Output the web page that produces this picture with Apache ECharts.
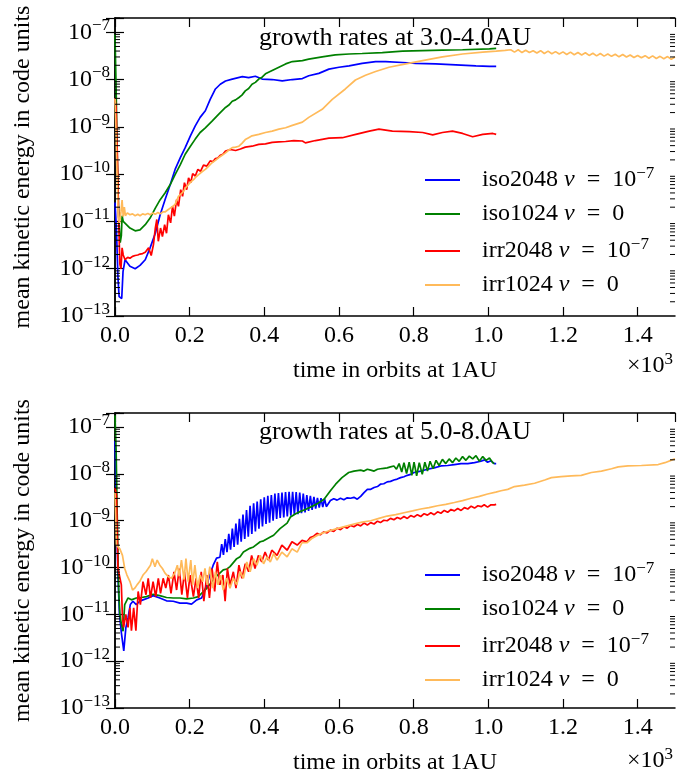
<!DOCTYPE html>
<html>
<head>
<meta charset="utf-8">
<script src="https://cdn.jsdelivr.net/npm/echarts@6/dist/echarts.min.js"></script>
<style>
  html, body { margin: 0; padding: 0; background: #fff; }
  #chart { width: 697px; height: 776px; }
</style>
</head>
<body>
<div id="chart"></div>
<script>
// Mean kinetic energy vs. time (in 10^3 orbits at 1 AU).
// Each point is [time, log10(energy)].

const panelTitles = ['growth rates at 3.0-4.0AU', 'growth rates at 5.0-8.0AU'];
const seriesNames = ['iso2048', 'iso1024', 'irr2048', 'irr1024'];
const seriesColors = ['#0000FF', '#008000', '#FF0000', '#FFBA5A'];

// ---- 3.0-4.0 AU ----
const topIso2048 = [[0.000,-10.60],[0.004,-11.20],[0.008,-12.20],[0.011,-12.59],[0.018,-12.63],[0.0215,-12.06],[0.027,-11.81],[0.040,-11.95],[0.054,-12.00],[0.067,-11.93],[0.081,-11.81],[0.094,-11.56],[0.108,-11.25],[0.121,-10.86],[0.134,-10.54],[0.148,-10.22],[0.161,-9.90],[0.175,-9.65],[0.188,-9.44],[0.202,-9.19],[0.215,-8.98],[0.228,-8.80],[0.242,-8.66],[0.255,-8.42],[0.269,-8.20],[0.282,-8.10],[0.296,-8.03],[0.314,-7.99],[0.341,-7.94],[0.358,-7.96],[0.376,-7.93],[0.394,-7.99],[0.421,-8.00],[0.448,-8.03],[0.475,-8.00],[0.502,-7.98],[0.519,-7.92],[0.546,-7.87],[0.573,-7.78],[0.600,-7.74],[0.627,-7.71],[0.662,-7.66],[0.698,-7.62],[0.725,-7.62],[0.770,-7.64],[0.806,-7.66],[0.859,-7.67],[0.913,-7.69],[0.967,-7.71],[1.003,-7.72],[1.021,-7.72]];

const topIso1024 = [[0.000,-7.05],[0.003,-8.20],[0.006,-9.60],[0.010,-10.90],[0.014,-11.45],[0.017,-11.30],[0.019,-10.88],[0.022,-11.00],[0.027,-11.00],[0.040,-11.14],[0.054,-11.20],[0.067,-11.18],[0.081,-11.07],[0.094,-10.93],[0.108,-10.72],[0.121,-10.54],[0.134,-10.40],[0.148,-10.22],[0.161,-10.01],[0.175,-9.80],[0.188,-9.58],[0.202,-9.41],[0.215,-9.26],[0.228,-9.12],[0.242,-9.02],[0.260,-8.88],[0.278,-8.73],[0.296,-8.59],[0.305,-8.54],[0.314,-8.46],[0.323,-8.43],[0.332,-8.38],[0.340,-8.33],[0.349,-8.24],[0.358,-8.19],[0.367,-8.10],[0.376,-8.06],[0.385,-7.99],[0.394,-7.95],[0.403,-7.88],[0.421,-7.81],[0.439,-7.74],[0.457,-7.67],[0.475,-7.62],[0.502,-7.60],[0.519,-7.57],[0.555,-7.52],[0.590,-7.48],[0.627,-7.46],[0.662,-7.45],[0.716,-7.43],[0.770,-7.40],[0.824,-7.39],[0.877,-7.38],[0.931,-7.37],[1.003,-7.35],[1.021,-7.34]];

const topIrr2048 = [[0.000,-8.40],[0.003,-8.60],[0.006,-9.50],[0.010,-11.00],[0.013,-11.90],[0.016,-12.00],[0.019,-11.56],[0.022,-11.71],[0.027,-11.81],[0.034,-11.76],[0.040,-11.78],[0.047,-11.74],[0.054,-11.72],[0.061,-11.71],[0.067,-11.69],[0.074,-11.68],[0.081,-11.65],[0.090,-11.56],[0.097,-11.72],[0.103,-11.49],[0.108,-11.14],[0.112,-10.96],[0.116,-11.42],[0.122,-11.14],[0.127,-11.32],[0.133,-11.07],[0.138,-11.25],[0.143,-10.86],[0.149,-11.03],[0.154,-10.68],[0.159,-10.89],[0.165,-10.54],[0.170,-10.68],[0.176,-10.33],[0.181,-10.47],[0.186,-10.18],[0.192,-10.33],[0.197,-10.08],[0.203,-10.18],[0.208,-9.99],[0.215,-10.04],[0.222,-9.90],[0.229,-9.94],[0.237,-9.81],[0.246,-9.83],[0.255,-9.72],[0.262,-9.74],[0.269,-9.67],[0.275,-9.66],[0.282,-9.60],[0.289,-9.58],[0.296,-9.51],[0.309,-9.48],[0.323,-9.50],[0.336,-9.47],[0.349,-9.43],[0.367,-9.41],[0.385,-9.37],[0.403,-9.36],[0.421,-9.33],[0.439,-9.32],[0.457,-9.31],[0.479,-9.29],[0.502,-9.30],[0.510,-9.34],[0.537,-9.29],[0.573,-9.24],[0.609,-9.23],[0.645,-9.16],[0.681,-9.09],[0.707,-9.05],[0.743,-9.09],[0.788,-9.10],[0.824,-9.12],[0.851,-9.17],[0.877,-9.12],[0.904,-9.09],[0.931,-9.14],[0.958,-9.21],[0.985,-9.16],[1.012,-9.14],[1.021,-9.16]];

const topIrr1024 = [[0.000,-8.40],[0.003,-9.20],[0.006,-10.20],[0.009,-10.90],[0.012,-11.05],[0.016,-10.80],[0.019,-10.55],[0.022,-10.90],[0.025,-10.70],[0.028,-10.88],[0.033,-10.82],[0.040,-10.86],[0.047,-10.84],[0.054,-10.88],[0.061,-10.85],[0.067,-10.88],[0.074,-10.84],[0.081,-10.86],[0.088,-10.83],[0.094,-10.86],[0.101,-10.82],[0.108,-10.85],[0.115,-10.81],[0.121,-10.84],[0.128,-10.80],[0.134,-10.80],[0.141,-10.76],[0.148,-10.72],[0.155,-10.68],[0.161,-10.64],[0.170,-10.47],[0.177,-10.42],[0.184,-10.36],[0.190,-10.28],[0.197,-10.22],[0.204,-10.16],[0.211,-10.11],[0.218,-10.05],[0.224,-10.01],[0.233,-9.95],[0.242,-9.90],[0.251,-9.83],[0.260,-9.76],[0.269,-9.71],[0.278,-9.65],[0.287,-9.60],[0.296,-9.55],[0.305,-9.49],[0.314,-9.44],[0.323,-9.43],[0.332,-9.41],[0.340,-9.35],[0.349,-9.27],[0.358,-9.23],[0.367,-9.19],[0.385,-9.16],[0.403,-9.12],[0.421,-9.09],[0.439,-9.05],[0.457,-9.02],[0.475,-8.97],[0.502,-8.90],[0.519,-8.80],[0.555,-8.63],[0.582,-8.42],[0.617,-8.20],[0.644,-8.01],[0.671,-7.91],[0.698,-7.83],[0.734,-7.74],[0.779,-7.67],[0.824,-7.60],[0.877,-7.52],[0.931,-7.46],[0.985,-7.42],[1.021,-7.40],[1.045,-7.385],[1.06,-7.37],[1.07,-7.42],[1.08,-7.37],[1.09,-7.43],[1.10,-7.38],[1.11,-7.43],[1.12,-7.39],[1.13,-7.44],[1.14,-7.39],[1.15,-7.45],[1.16,-7.40],[1.17,-7.455],[1.18,-7.41],[1.19,-7.46],[1.20,-7.415],[1.21,-7.47],[1.22,-7.42],[1.23,-7.475],[1.24,-7.43],[1.25,-7.48],[1.26,-7.435],[1.27,-7.49],[1.28,-7.445],[1.29,-7.50],[1.30,-7.45],[1.31,-7.505],[1.32,-7.46],[1.33,-7.51],[1.34,-7.465],[1.35,-7.52],[1.36,-7.47],[1.37,-7.525],[1.38,-7.48],[1.39,-7.535],[1.40,-7.49],[1.41,-7.54],[1.42,-7.495],[1.43,-7.55],[1.44,-7.50],[1.45,-7.555],[1.46,-7.51],[1.47,-7.56],[1.48,-7.515],[1.49,-7.57],[1.50,-7.525]];

// ---- 5.0-8.0 AU ----
const botIso2048 = [[0.000,-7.30],[0.004,-8.80],[0.008,-10.20],[0.012,-11.00],[0.017,-11.39],[0.0235,-11.78],[0.029,-11.29],[0.035,-11.07],[0.041,-10.79],[0.048,-10.72],[0.057,-10.79],[0.066,-10.72],[0.075,-10.69],[0.089,-10.65],[0.102,-10.60],[0.120,-10.65],[0.138,-10.71],[0.156,-10.72],[0.174,-10.76],[0.192,-10.76],[0.205,-10.78],[0.219,-10.69],[0.232,-10.65],[0.246,-10.37],[0.254,-10.16],[0.263,-9.95],[0.272,-9.80],[0.281,-9.78],[0.2858,-9.50],[0.2905,-9.73],[0.2953,-9.39],[0.300,-9.67],[0.3048,-9.28],[0.3095,-9.62],[0.3143,-9.17],[0.319,-9.56],[0.3238,-9.06],[0.3285,-9.51],[0.3333,-8.96],[0.338,-9.45],[0.3428,-8.87],[0.3475,-9.39],[0.3523,-8.77],[0.357,-9.34],[0.3618,-8.68],[0.3665,-9.28],[0.3713,-8.63],[0.376,-9.23],[0.3808,-8.59],[0.3855,-9.17],[0.3903,-8.54],[0.395,-9.12],[0.3998,-8.50],[0.4045,-9.07],[0.4093,-8.47],[0.414,-9.04],[0.4188,-8.45],[0.4235,-9.00],[0.4283,-8.42],[0.433,-8.96],[0.4378,-8.41],[0.4425,-8.94],[0.4473,-8.40],[0.452,-8.93],[0.4568,-8.39],[0.4615,-8.91],[0.4663,-8.38],[0.471,-8.89],[0.4758,-8.38],[0.4805,-8.87],[0.4853,-8.39],[0.490,-8.86],[0.4948,-8.40],[0.4995,-8.84],[0.5043,-8.42],[0.509,-8.82],[0.5138,-8.45],[0.5185,-8.79],[0.5233,-8.47],[0.528,-8.77],[0.5328,-8.49],[0.5375,-8.74],[0.5423,-8.51],[0.547,-8.72],[0.5518,-8.52],[0.5565,-8.71],[0.5613,-8.53],[0.566,-8.70],[0.577,-8.57],[0.586,-8.53],[0.595,-8.56],[0.604,-8.52],[0.613,-8.55],[0.622,-8.51],[0.631,-8.52],[0.640,-8.50],[0.649,-8.54],[0.658,-8.48],[0.667,-8.40],[0.676,-8.33],[0.685,-8.33],[0.694,-8.29],[0.703,-8.27],[0.711,-8.22],[0.720,-8.21],[0.729,-8.17],[0.738,-8.16],[0.747,-8.13],[0.756,-8.11],[0.765,-8.08],[0.774,-8.06],[0.783,-8.03],[0.792,-8.01],[0.801,-7.97],[0.819,-7.94],[0.837,-7.90],[0.855,-7.87],[0.873,-7.83],[0.891,-7.82],[0.909,-7.80],[0.927,-7.78],[0.945,-7.78],[0.963,-7.76],[0.980,-7.73],[0.990,-7.70],[0.998,-7.75],[1.007,-7.72],[1.016,-7.78],[1.021,-7.78]];

const botIso1024 = [[0.000,-6.75],[0.003,-7.50],[0.006,-8.90],[0.008,-9.80],[0.010,-10.50],[0.013,-11.00],[0.017,-11.20],[0.0216,-11.36],[0.026,-10.79],[0.035,-10.65],[0.044,-10.69],[0.057,-10.65],[0.071,-10.64],[0.084,-10.62],[0.102,-10.57],[0.120,-10.60],[0.138,-10.64],[0.156,-10.65],[0.174,-10.65],[0.192,-10.67],[0.210,-10.65],[0.223,-10.62],[0.245,-10.45],[0.270,-10.20],[0.290,-10.05],[0.300,-10.03],[0.308,-9.98],[0.326,-9.81],[0.335,-9.77],[0.344,-9.67],[0.361,-9.59],[0.371,-9.56],[0.389,-9.45],[0.398,-9.43],[0.416,-9.35],[0.425,-9.31],[0.442,-9.17],[0.461,-9.05],[0.470,-8.92],[0.484,-8.85],[0.497,-8.80],[0.510,-8.76],[0.523,-8.71],[0.541,-8.64],[0.560,-8.54],[0.577,-8.36],[0.591,-8.22],[0.608,-8.08],[0.626,-7.97],[0.640,-7.94],[0.658,-7.92],[0.667,-7.94],[0.676,-7.90],[0.685,-7.92],[0.694,-7.94],[0.703,-7.90],[0.711,-7.89],[0.720,-7.88],[0.729,-7.87],[0.738,-7.85],[0.747,-7.83],[0.754,-7.90],[0.761,-7.78],[0.768,-7.96],[0.774,-7.76],[0.781,-7.99],[0.788,-7.75],[0.795,-8.03],[0.801,-7.75],[0.808,-8.04],[0.815,-7.76],[0.823,-8.01],[0.830,-7.75],[0.837,-7.94],[0.844,-7.73],[0.852,-7.89],[0.860,-7.71],[0.868,-7.82],[0.877,-7.69],[0.886,-7.78],[0.895,-7.68],[0.904,-7.76],[0.913,-7.66],[0.922,-7.73],[0.931,-7.63],[0.940,-7.71],[0.949,-7.62],[0.958,-7.68],[0.967,-7.61],[0.976,-7.73],[0.985,-7.63],[0.994,-7.71],[1.003,-7.66],[1.012,-7.76],[1.016,-7.78]];

const botIrr2048 = [[0.000,-8.30],[0.004,-8.45],[0.008,-10.02],[0.017,-10.37],[0.020,-11.07],[0.023,-11.28],[0.029,-11.00],[0.035,-11.28],[0.040,-10.86],[0.044,-11.35],[0.050,-10.86],[0.056,-11.35],[0.062,-10.51],[0.068,-10.79],[0.075,-10.30],[0.083,-10.58],[0.089,-10.23],[0.095,-10.65],[0.102,-10.30],[0.109,-10.62],[0.116,-10.23],[0.122,-10.55],[0.129,-10.23],[0.136,-10.44],[0.143,-10.16],[0.150,-10.55],[0.158,-10.09],[0.165,-10.48],[0.172,-10.02],[0.179,-10.58],[0.186,-10.09],[0.194,-10.65],[0.201,-10.16],[0.210,-10.62],[0.217,-10.23],[0.224,-10.65],[0.231,-10.09],[0.238,-10.72],[0.246,-10.16],[0.253,-10.65],[0.260,-10.02],[0.267,-10.51],[0.274,-9.88],[0.281,-10.37],[0.289,-10.16],[0.295,-10.72],[0.301,-10.02],[0.308,-10.37],[0.317,-10.09],[0.324,-10.44],[0.332,-9.95],[0.340,-10.23],[0.349,-9.92],[0.358,-10.09],[0.366,-9.74],[0.375,-10.02],[0.384,-9.74],[0.393,-9.88],[0.402,-9.67],[0.411,-9.84],[0.420,-9.63],[0.434,-9.74],[0.447,-9.52],[0.461,-9.63],[0.474,-9.45],[0.488,-9.52],[0.501,-9.42],[0.514,-9.45],[0.523,-9.36],[0.532,-9.33],[0.541,-9.27],[0.550,-9.30],[0.559,-9.24],[0.568,-9.26],[0.577,-9.20],[0.586,-9.23],[0.595,-9.16],[0.604,-9.19],[0.613,-9.13],[0.622,-9.16],[0.631,-9.10],[0.640,-9.13],[0.649,-9.08],[0.658,-9.11],[0.667,-9.05],[0.676,-9.09],[0.685,-9.04],[0.694,-9.07],[0.703,-9.01],[0.711,-9.04],[0.720,-8.99],[0.729,-9.00],[0.738,-8.95],[0.747,-8.98],[0.756,-8.93],[0.765,-8.96],[0.774,-8.91],[0.783,-8.95],[0.792,-8.89],[0.801,-8.92],[0.810,-8.87],[0.819,-8.91],[0.828,-8.85],[0.837,-8.88],[0.846,-8.83],[0.855,-8.87],[0.864,-8.81],[0.873,-8.84],[0.882,-8.78],[0.891,-8.82],[0.900,-8.76],[0.909,-8.79],[0.918,-8.74],[0.927,-8.78],[0.936,-8.72],[0.945,-8.75],[0.954,-8.69],[0.963,-8.73],[0.972,-8.68],[0.981,-8.70],[0.989,-8.66],[0.998,-8.71],[1.007,-8.66],[1.016,-8.66],[1.021,-8.65]];

const botIrr1024 = [[0.000,-8.40],[0.004,-9.52],[0.013,-9.60],[0.020,-9.74],[0.026,-10.02],[0.032,-10.16],[0.040,-10.30],[0.047,-10.48],[0.053,-10.44],[0.059,-10.37],[0.066,-10.30],[0.075,-10.16],[0.083,-10.09],[0.089,-10.02],[0.095,-9.95],[0.100,-9.81],[0.107,-9.98],[0.113,-9.84],[0.120,-9.95],[0.127,-10.02],[0.134,-10.12],[0.142,-10.19],[0.151,-10.23],[0.160,-10.12],[0.167,-9.95],[0.172,-10.19],[0.178,-9.84],[0.185,-10.26],[0.190,-9.81],[0.196,-10.30],[0.203,-9.84],[0.208,-10.37],[0.214,-9.95],[0.221,-10.44],[0.228,-10.16],[0.235,-10.30],[0.241,-10.02],[0.247,-10.37],[0.254,-9.98],[0.262,-10.44],[0.269,-10.09],[0.276,-10.37],[0.283,-10.16],[0.290,-10.48],[0.299,-10.23],[0.308,-10.44],[0.317,-10.23],[0.326,-10.37],[0.335,-10.09],[0.344,-10.23],[0.353,-9.88],[0.362,-10.09],[0.371,-9.81],[0.380,-9.95],[0.389,-9.74],[0.398,-9.92],[0.407,-9.77],[0.416,-9.88],[0.425,-9.70],[0.434,-9.84],[0.447,-9.67],[0.461,-9.77],[0.474,-9.60],[0.488,-9.67],[0.501,-9.47],[0.514,-9.47],[0.527,-9.38],[0.550,-9.28],[0.572,-9.22],[0.595,-9.17],[0.617,-9.12],[0.640,-9.07],[0.662,-9.03],[0.685,-9.00],[0.707,-8.95],[0.729,-8.90],[0.752,-8.87],[0.774,-8.83],[0.797,-8.79],[0.819,-8.75],[0.841,-8.72],[0.864,-8.68],[0.886,-8.65],[0.909,-8.61],[0.931,-8.57],[0.954,-8.52],[0.976,-8.48],[0.998,-8.43],[1.020,-8.39],[1.034,-8.36],[1.052,-8.33],[1.070,-8.27],[1.097,-8.24],[1.124,-8.20],[1.151,-8.13],[1.169,-8.08],[1.195,-8.06],[1.222,-8.04],[1.249,-8.03],[1.276,-7.97],[1.303,-7.94],[1.330,-7.89],[1.348,-7.85],[1.374,-7.83],[1.410,-7.82],[1.455,-7.80],[1.473,-7.76],[1.496,-7.69],[1.500,-7.68]];

const panels = [
  [topIso2048, topIso1024, topIrr2048, topIrr1024],
  [botIso2048, botIso1024, botIrr2048, botIrr1024]
];

const X_MIN = 0, X_MAX = 1.5, X_STEP = 0.2;
const Y_MIN = 1e-13, Y_MAX = 2e-7;

const FONT = 'Liberation Serif';
const BLACK = '#000';

// en spaces around "=" give the wider math spacing
const legendText = {
  iso2048: '{f|iso2048 }{v|ν}{t|\u2002=\u200210}{s|−7}',
  iso1024: '{f|iso1024 }{v|ν}{t|\u2002=\u20020}',
  irr2048: '{f|irr2048 }{v|ν}{t|\u2002=\u200210}{s|−7}',
  irr1024: '{f|irr1024 }{v|ν}{t|\u2002=\u20020}'
};

const baseRich = {
  t: { fontFamily: FONT, fontSize: 24, lineHeight: 30, color: BLACK },
  f: { fontFamily: FONT, fontSize: 24, lineHeight: 30, color: BLACK, padding: [0, 0, 0, 17] },
  v: { fontFamily: FONT, fontSize: 24, lineHeight: 30, color: BLACK, fontStyle: 'italic' },
  b: { fontFamily: FONT, fontSize: 24, lineHeight: 30, color: BLACK },
  s: { fontFamily: FONT, fontSize: 17, lineHeight: 17, color: BLACK, verticalAlign: 'top' }
};

const grids = [
  { left: 115, top: 18, width: 560, height: 298 },
  { left: 115, top: 413, width: 560, height: 298 }
];

function powerLabel(v) {
  const e = Math.log10(v);
  const r = Math.round(e);
  if (Math.abs(e - r) > 1e-6) return '';
  return '{b|10}{s|−' + (-r) + '}';
}

const xAxes = [], yAxes = [];
grids.forEach((g, i) => {
  const common = {
    gridIndex: i, type: 'value', min: X_MIN, max: X_MAX, interval: X_STEP,
    axisLine: { show: true, lineStyle: { color: BLACK, width: 1.5 } },
    axisTick: { show: true, inside: true, length: 9, lineStyle: { color: BLACK, width: 1.2 } },
    splitLine: { show: false }
  };
  xAxes.push(Object.assign({}, common, {
    position: 'bottom',
    axisLabel: {
      formatter: v => v.toFixed(1), fontFamily: FONT, fontSize: 24, color: BLACK,
      margin: 8, showMaxLabel: false
    },
    name: 'time in orbits at 1AU', nameLocation: 'middle', nameGap: 43,
    nameTextStyle: { fontFamily: FONT, fontSize: 24, color: BLACK }
  }));
  xAxes.push(Object.assign({}, common, {
    position: 'top', axisLabel: { show: false }
  }));

  const ycommon = {
    gridIndex: i, type: 'log', logBase: 10, min: Y_MIN, max: Y_MAX,
    axisLine: { show: true, lineStyle: { color: BLACK, width: 1.5 } },
    axisTick: { show: true, inside: true, length: 9, lineStyle: { color: BLACK, width: 1.2 } },
    splitLine: { show: false }
  };
  yAxes.push(Object.assign({}, ycommon, {
    position: 'left',
    axisLabel: { formatter: powerLabel, margin: 5, rich: baseRich },
    name: 'mean kinetic energy in code units', nameLocation: 'middle', nameGap: 80,
    nameRotate: 90,
    nameTextStyle: { fontFamily: FONT, fontSize: 24, color: BLACK }
  }));
  yAxes.push(Object.assign({}, ycommon, {
    position: 'right', axisLabel: { show: false }
  }));
});

// minor decade ticks (2..9 x 10^n) on both vertical frame edges
const minorValues = [];
for (let d = -13; d <= -7; d++) {
  for (let k = 2; k <= 9; k++) {
    const v = k * Math.pow(10, d);
    if (v <= Y_MAX * 1.0001) minorValues.push([X_MIN, v]);
  }
}

const series = [];
panels.forEach((lines, p) => {
  lines.forEach((pts, i) => {
    series.push({
      name: seriesNames[i], type: 'line',
      xAxisIndex: p * 2, yAxisIndex: p * 2,
      data: pts.map(([t, e]) => [t, Math.pow(10, e)]),
      showSymbol: false, symbol: 'none',
      lineStyle: { color: seriesColors[i], width: 1.7 },
      itemStyle: { color: seriesColors[i] },
      emphasis: { disabled: true },
      animation: false, z: 2 + i
    });
  });
  series.push({
    type: 'custom', xAxisIndex: p * 2, yAxisIndex: p * 2,
    data: minorValues, silent: true, animation: false, z: 10,
    encode: { x: 0, y: 1 },
    renderItem: (params, api) => {
      const v = api.value(1);
      const l = api.coord([X_MIN, v]);
      const r = api.coord([X_MAX, v]);
      const st = { stroke: BLACK, lineWidth: 1 };
      return {
        type: 'group',
        children: [
          { type: 'line', shape: { x1: l[0], y1: l[1], x2: l[0] + 5, y2: l[1] }, style: st },
          { type: 'line', shape: { x1: r[0], y1: r[1], x2: r[0] - 5, y2: r[1] }, style: st }
        ]
      };
    }
  });
});

const legendCommon = {
  orient: 'vertical', left: 420, itemWidth: 35, itemHeight: 2, itemGap: 10,
  icon: 'rect',
  data: seriesNames, selectedMode: false,
  formatter: name => legendText[name],
  textStyle: { rich: baseRich }
};

const graphics = [];
[37.9, 431.9].forEach((y, i) => {
  graphics.push({
    type: 'text', x: 395, y: y, silent: true,
    style: { text: panelTitles[i], font: '26px "Liberation Serif"', fill: BLACK,
             align: 'center', verticalAlign: 'middle' }
  });
});
[366, 761].forEach(y => {
  graphics.push({
    type: 'text', x: 673, y: y, silent: true,
    style: { text: '{b|×10}{s|3}', rich: baseRich, align: 'right', verticalAlign: 'middle' }
  });
});

const chart = echarts.init(document.getElementById('chart'), null, { renderer: 'canvas' });
chart.setOption({
  animation: false,
  backgroundColor: '#fff',
  grid: grids,
  xAxis: xAxes,
  yAxis: yAxes,
  legend: [
    Object.assign({ top: 160 }, legendCommon),
    Object.assign({ top: 555 }, legendCommon)
  ],
  graphic: graphics,
  series: series
});
</script>
</body>
</html>
